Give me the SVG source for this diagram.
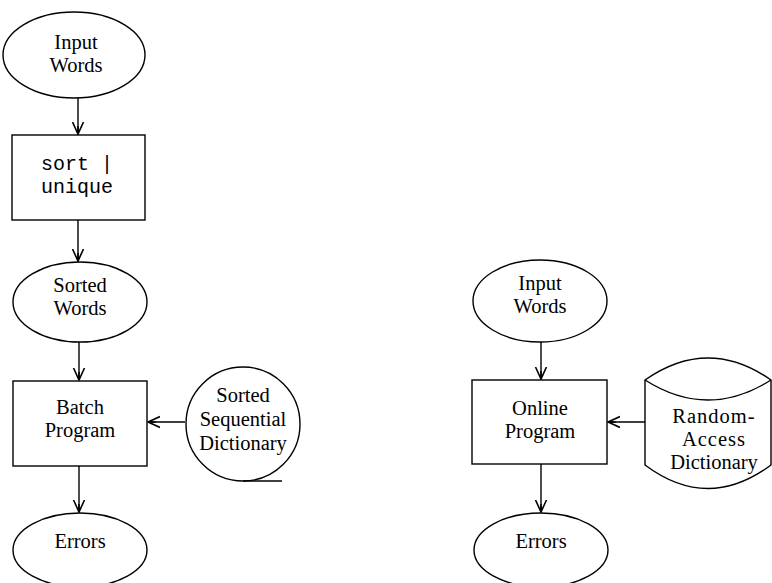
<svg xmlns="http://www.w3.org/2000/svg" width="772" height="583" viewBox="0 0 772 583">
<style>
.s{fill:#fff;stroke:#000;stroke-width:1.4}
.t{font-family:"Liberation Serif","Times New Roman",serif;font-size:20.5px;text-anchor:middle;fill:#000}
.m{font-family:"Liberation Mono","Courier New",monospace;font-size:20px;text-anchor:middle;fill:#000}
.c{stroke:#000;stroke-width:1.4;fill:none}
</style>
<defs>
<marker id="a" markerWidth="14" markerHeight="14" refX="12" refY="7" orient="auto" markerUnits="userSpaceOnUse">
<path d="M0,1.5 L12,7 L0,12.5 M4,7 L12,7" fill="none" stroke="#000" stroke-width="1.6"/>
</marker>
</defs>
<g id="connectors">
<line class="c" x1="78" y1="98" x2="78" y2="134" marker-end="url(#a)"/>
<line class="c" x1="78" y1="220" x2="78" y2="261" marker-end="url(#a)"/>
<line class="c" x1="79" y1="342" x2="79" y2="380" marker-end="url(#a)"/>
<line class="c" x1="185" y1="422" x2="148" y2="422" marker-end="url(#a)"/>
<line class="c" x1="79" y1="466" x2="79" y2="512" marker-end="url(#a)"/>
<line class="c" x1="541" y1="342" x2="541" y2="379" marker-end="url(#a)"/>
<line class="c" x1="645" y1="422" x2="608" y2="422" marker-end="url(#a)"/>
<line class="c" x1="541" y1="464" x2="541" y2="512" marker-end="url(#a)"/>
</g>
<g id="input-words-1">
<ellipse class="s" cx="74" cy="55" rx="71" ry="43"/>
<text class="t" x="76" y="49">Input</text>
<text class="t" x="76" y="72">Words</text>
</g>
<g id="sort-unique">
<rect class="s" x="12" y="135" width="133" height="85"/>
<text class="m" x="77" y="170">sort |</text>
<text class="m" x="77" y="193">unique</text>
</g>
<g id="sorted-words">
<ellipse class="s" cx="80" cy="302" rx="67" ry="40"/>
<text class="t" x="80" y="292">Sorted</text>
<text class="t" x="80" y="315">Words</text>
</g>
<g id="batch-program">
<rect class="s" x="13" y="381" width="134" height="85"/>
<text class="t" x="80" y="414">Batch</text>
<text class="t" x="80" y="437">Program</text>
</g>
<g id="sorted-sequential-dictionary">
<circle class="s" cx="243" cy="424" r="57"/>
<line class="c" x1="243" y1="481" x2="282" y2="481"/>
<text class="t" x="243" y="402">Sorted</text>
<text class="t" x="243" y="426">Sequential</text>
<text class="t" x="243" y="450">Dictionary</text>
</g>
<g id="errors-1">
<ellipse class="s" cx="80" cy="550" rx="67" ry="37"/>
<text class="t" x="80" y="548">Errors</text>
</g>
<g id="input-words-2">
<ellipse class="s" cx="540" cy="301" rx="67" ry="41"/>
<text class="t" x="540" y="290">Input</text>
<text class="t" x="540" y="313">Words</text>
</g>
<g id="online-program">
<rect class="s" x="472" y="380" width="135" height="84"/>
<text class="t" x="540" y="415">Online</text>
<text class="t" x="540" y="438">Program</text>
</g>
<g id="random-access-dictionary">
<path class="s" d="M645,380 Q708,336 771,380 L771,465 Q708,512 645,465 Z"/>
<path class="c" d="M645,380 Q708,420 771,380"/>
<text class="t" x="714" y="423" letter-spacing="1">Random-</text>
<text class="t" x="714" y="446" letter-spacing="1">Access</text>
<text class="t" x="714" y="469">Dictionary</text>
</g>
<g id="errors-2">
<ellipse class="s" cx="541" cy="550" rx="67" ry="37"/>
<text class="t" x="541" y="548">Errors</text>
</g>
</svg>
